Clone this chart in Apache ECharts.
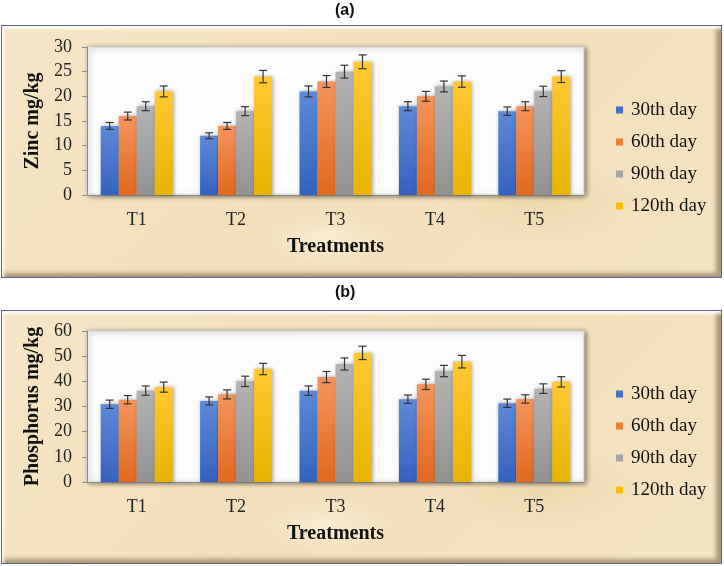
<!DOCTYPE html>
<html>
<head>
<meta charset="utf-8">
<script src="https://cdn.jsdelivr.net/npm/echarts@6/dist/echarts.min.js"></script>
<style>
  html, body { margin: 0; padding: 0; background: #fff; }
  #wrap { position: relative; width: 724px; height: 566px; overflow: hidden; }
  .panel {
    position: absolute; left: 1px; width: 719px;
    border: 1px solid #5d6590;
    background:
      radial-gradient(ellipse 120px 50px at 20% 30%, rgba(255,250,235,0.55), rgba(255,250,235,0) 70%),
      radial-gradient(ellipse 140px 60px at 75% 70%, rgba(225,200,150,0.35), rgba(225,200,150,0) 70%),
      radial-gradient(ellipse 100px 40px at 45% 85%, rgba(255,248,230,0.5), rgba(255,248,230,0) 70%),
      linear-gradient(135deg, #f6e6c6 0%, #f3dfb9 50%, #f5e4c2 100%);
    box-shadow: inset 2px 3px 3px rgba(255,255,255,0.85), inset -5px -4px 4px rgba(110,90,60,0.55);
  }
  #chart { position: absolute; left: 0; top: 0; width: 724px; height: 566px; }
</style>
</head>
<body>
<div id="wrap">
  <div class="panel" style="top:25px;height:251px"></div>
  <div class="panel" style="top:310px;height:252px"></div>
  <div id="chart"></div>
</div>
<script>
// categories and legend names
const treatments = ['T1', 'T2', 'T3', 'T4', 'T5'];
const days = ['30th day', '60th day', '90th day', '120th day'];
const dayColors = ['#4472C4', '#ED7D31', '#A5A5A5', '#FFC000'];

// (a) zinc mg/kg
const zinc30 = [14, 12, 21, 18, 17];
const zinc60 = [16, 14, 23, 20, 18];
const zinc90 = [18, 17, 25, 22, 21];
const zinc120 = [21, 24, 27, 23, 24];
const zincErr30 = [0.7, 0.6, 1.1, 0.9, 0.85];
const zincErr60 = [0.8, 0.7, 1.2, 1.0, 0.9];
const zincErr90 = [0.9, 0.9, 1.3, 1.1, 1.05];
const zincErr120 = [1.1, 1.25, 1.4, 1.15, 1.2];

// (b) phosphorus mg/kg
const phos30 = [30.9, 32.2, 36.3, 32.9, 31.3];
const phos60 = [32.7, 34.8, 41.7, 38.8, 33.0];
const phos90 = [36.3, 40.0, 46.9, 44.1, 37.1];
const phos120 = [37.7, 44.9, 51.3, 47.8, 39.8];
const phosErr30 = [1.65, 1.6, 1.85, 1.65, 1.65];
const phosErr60 = [1.65, 1.8, 2.2, 2.05, 1.65];
const phosErr90 = [1.85, 2.05, 2.4, 2.25, 1.9];
const phosErr120 = [2.0, 2.25, 2.65, 2.5, 2.05];

const zincSets = [zinc30, zinc60, zinc90, zinc120];
const zincErrs = [zincErr30, zincErr60, zincErr90, zincErr120];
const phosSets = [phos30, phos60, phos90, phos120];
const phosErrs = [phosErr30, phosErr60, phosErr90, phosErr120];

const BAR_W = 18;
const SERIF = '"Liberation Serif", "Times New Roman", serif';
const SANS = '"Liberation Sans", Arial, sans-serif';

const gradients = [
  ['#5d89d8', '#3562bd'],
  ['#f4945c', '#e2691f'],
  ['#b3b3b3', '#929292'],
  ['#ffc933', '#e8b400']
];

function barStyle(i) {
  return {
    color: new echarts.graphic.LinearGradient(0, 0, 0, 1, [
      { offset: 0, color: gradients[i][0] },
      { offset: 1, color: gradients[i][1] }
    ]),
    shadowBlur: 4,
    shadowColor: 'rgba(0,0,0,0.35)',
    shadowOffsetX: 1
  };
}

function errorData(sets, errs) {
  const out = [];
  sets.forEach((vals, k) => {
    vals.forEach((v, c) => out.push([c, v - errs[k][c], v + errs[k][c], k]));
  });
  return out;
}

function renderError(params, api) {
  const c = api.value(0);
  const k = api.value(3);
  const lo = api.coord([c, api.value(1)]);
  const hi = api.coord([c, api.value(2)]);
  const x = lo[0] + (k - 1.5) * BAR_W;
  const cap = 4;
  const style = { stroke: '#333', lineWidth: 1.2 };
  return {
    type: 'group',
    children: [
      { type: 'line', shape: { x1: x, y1: lo[1], x2: x, y2: hi[1] }, style },
      { type: 'line', shape: { x1: x - cap, y1: lo[1], x2: x + cap, y2: lo[1] }, style },
      { type: 'line', shape: { x1: x - cap, y1: hi[1], x2: x + cap, y2: hi[1] }, style }
    ]
  };
}

function xAxisFor(gridIndex) {
  return {
    type: 'category',
    gridIndex,
    data: treatments,
    name: 'Treatments',
    nameLocation: 'middle',
    nameGap: 42,
    nameTextStyle: { fontFamily: SERIF, fontSize: 20, fontWeight: 'bold', color: '#111' },
    axisLine: { lineStyle: { color: '#8c8c8c' } },
    axisTick: { length: 5, lineStyle: { color: '#8c8c8c' } },
    axisLabel: { fontFamily: SERIF, fontSize: 18, color: '#222', margin: 16 }
  };
}

function yAxisFor(gridIndex, name, max, interval) {
  return {
    type: 'value',
    gridIndex,
    min: 0,
    max,
    interval,
    name,
    nameLocation: 'middle',
    nameGap: 40,
    nameTextStyle: { fontFamily: SERIF, fontSize: 20, fontWeight: 'bold', color: '#111' },
    axisLine: { show: true, lineStyle: { color: '#8c8c8c' } },
    axisTick: { show: true, length: 5, lineStyle: { color: '#8c8c8c' } },
    axisLabel: { fontFamily: SERIF, fontSize: 18, color: '#222', margin: 15 },
    splitLine: { show: false }
  };
}

function legendFor(top) {
  return {
    orient: 'vertical',
    left: 611,
    top,
    icon: 'rect',
    itemWidth: 7,
    itemHeight: 7,
    itemGap: 12,
    selectedMode: false,
    textStyle: { fontFamily: SERIF, fontSize: 19, lineHeight: 20, color: '#111', padding: [0, 0, 0, 3] },
    data: days.map((d, i) => ({ name: d, itemStyle: { color: dayColors[i], shadowBlur: 0 } }))
  };
}

const gridStyle = {
  show: true,
  left: 87,
  right: 140,
  backgroundColor: '#fcfcfc',
  borderColor: '#cfcfcf',
  borderWidth: 1,
  shadowColor: 'rgba(0,0,0,0.45)',
  shadowBlur: 5,
  shadowOffsetX: 2,
  shadowOffsetY: 1
};

const series = [];
[zincSets, phosSets].forEach((sets, g) => {
  sets.forEach((vals, i) => {
    series.push({
      type: 'bar',
      name: days[i],
      xAxisIndex: g,
      yAxisIndex: g,
      data: vals,
      barWidth: BAR_W,
      barGap: '0%',
      itemStyle: barStyle(i)
    });
  });
});
series.push({
  type: 'custom', xAxisIndex: 0, yAxisIndex: 0, z: 5,
  renderItem: renderError, encode: { x: 0, y: [1, 2] },
  data: errorData(zincSets, zincErrs)
});
series.push({
  type: 'custom', xAxisIndex: 1, yAxisIndex: 1, z: 5,
  renderItem: renderError, encode: { x: 0, y: [1, 2] },
  data: errorData(phosSets, phosErrs)
});

const chart = echarts.init(document.getElementById('chart'));
chart.setOption({
  backgroundColor: 'transparent',
  animation: false,
  title: [
    { text: '(a)', left: 335, top: 3, padding: 0,
      textStyle: { fontFamily: SANS, fontSize: 16, fontWeight: 'bold', color: '#111' } },
    { text: '(b)', left: 335, top: 285, padding: 0,
      textStyle: { fontFamily: SANS, fontSize: 16, fontWeight: 'bold', color: '#111' } }
  ],
  legend: [legendFor(95), legendFor(379)],
  grid: [
    Object.assign({}, gridStyle, { top: 47, bottom: 371 }),
    Object.assign({}, gridStyle, { top: 331, bottom: 84 })
  ],
  xAxis: [xAxisFor(0), xAxisFor(1)],
  yAxis: [yAxisFor(0, 'Zinc mg/kg', 30, 5), yAxisFor(1, 'Phosphorus mg/kg', 60, 10)],
  series
});
</script>
</body>
</html>
